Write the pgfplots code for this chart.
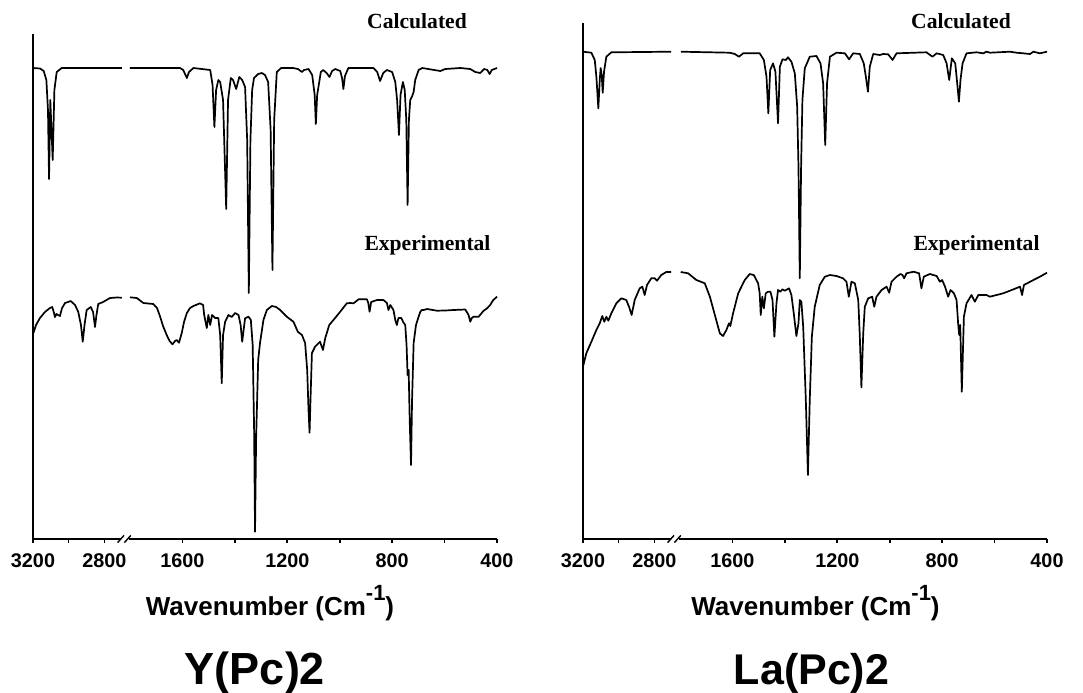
\documentclass[border=0pt]{standalone}
\usepackage{fontspec}
\setmainfont{Liberation Sans}
\newfontfamily\tnr{Liberation Serif}
\usepackage{pgfplots}
\pgfplotsset{compat=1.18}
\pgfplotsset{
  irax/.style={
    scale only axis, width=232pt, height=258pt, anchor=south west,
    xmin=0, xmax=1770, ymin=-539, ymax=-23, enlargelimits=false,
    axis x line=bottom, axis y line=none,
    axis line style={-, line width=0.9pt},
    x filter/.expression={(x>2000)*0.68*(3200-x)+(x<=2000)*(2170-x)},
    y filter/.expression={-y},
    xtick={0,136,272,570,770,970,1170,1370,1570,1770},
    xticklabels={3200,,2800,1600,,1200,,800,,400},
    ytick=\empty,
    tick align=outside, major tick length=1.8pt,
    tick style={line width=0.8pt, black},
    xticklabel style={font=\fontsize{9.9}{10}\selectfont\bfseries, yshift=-2pt},
    /pgf/number format/assume math mode=true,
    clip=false,
  },
  spec/.style={black, line width=0.85pt, no markers, line join=round},
}
\begin{document}
\begin{tikzpicture}
\useasboundingbox (0,0) rectangle (541.5pt,-346pt);
% ---------------- Y(Pc)2 ----------------
\begin{axis}[irax, at={(16.5pt,-269.5pt)}]
% calculated
\addplot[spec] coordinates {(3200,68)(3160,68.5)(3140,71)(3125,80)(3116,110)(3110,179)(3103,100)(3089.5,160)(3080,90)(3067,72)(3039,68)(2702,68)};
\addplot[spec] coordinates {(1800,68)(1609,68)(1597,70)(1583,78)(1575,72)(1558,68)(1494,70)(1485,85)(1478,127)(1471.5,90)(1463,80)(1456,82)(1445,100)(1433,209)(1426,100)(1415.4,78)(1407,80)(1395,89)(1383,77)(1372,80)(1361,87)(1353,140)(1346.7,293)(1340.6,140)(1334,90)(1327,78)(1311,74)(1297,73)(1285,75)(1273,82)(1263.5,130)(1256.6,270)(1250,120)(1240,72)(1223.5,68)(1178,68)(1159,69)(1144,72)(1136,70)(1119,69)(1105,75)(1095.5,95)(1091,124)(1086,95)(1072,72)(1063,70)(1050,73)(1039,77)(1029,71)(1017,69)(998,71)(991,78)(986,89)(980,76)(967,68)(871,68)(857,72)(846,81)(834,73)(820,70)(800,72)(788,82)(781,100)(774,135)(768,95)(759,82)(752,90)(746,120)(741,205)(736,120)(731,100)(725,97)(718,92)(712,80)(699,70)(685,68)(616,71)(597.5,69)(540,68)(502,69)(483,72)(464,73)(449,69)(437,70)(428,74)(420,70)(400,68)};
% experimental
\addplot[spec] coordinates {(3198,333)(3183,325)(3161,318)(3133,312)(3105,308)(3092,307)(3082,313)(3077,317)(3068,314)(3060,315)(3049,316)(3037,308)(3020,303)(3004,302)(2988.5,301)(2964,305)(2946,312)(2931,325)(2921,341.7)(2911,325)(2899,310)(2876,307)(2863,312)(2852,327)(2844,315)(2834,304)(2807,302)(2768,298)(2730,297.5)(2702,297.7)};
\addplot[spec] coordinates {(1800,297.3)(1774,298)(1749,303)(1711,304)(1697,308)(1685,316.7)(1674,326)(1660,335)(1649,341)(1638,344.3)(1628,341)(1621.5,340)(1613,342.7)(1602.5,333)(1594,322)(1583,313)(1571,308)(1558,306)(1533,303.3)(1521,305)(1517,315)(1507,328)(1501,315)(1494,325)(1487,315)(1475,318)(1463,318)(1456,335)(1450,383.3)(1445,335)(1437,321.7)(1424.5,315)(1412,317)(1399,313)(1386,315)(1378,325)(1372,341.7)(1366.5,330)(1361,318.3)(1348,316.7)(1339,320)(1332,345)(1326.5,430)(1323,531.7)(1319,440)(1311,360)(1304,343)(1291,320)(1278,310)(1259,306)(1242.5,307)(1227,310)(1202,316.7)(1176.5,321.7)(1160,331.7)(1144,335)(1132,343)(1124,370)(1119,410)(1115,432.7)(1111.5,400)(1106,353)(1094,346.7)(1075,341.7)(1064,350)(1055,338)(1040,325)(1024,320)(998,311.7)(973,303.3)(960,303)(947,303.3)(928,299.3)(896,299.3)(891,303)(886,311.7)(880,302)(858,300)(833,300)(820,303)(814,310)(807,305)(795,310)(788,320)(782,325)(776,318)(765,318)(758,322)(750,325)(745,345)(741,375)(737,370)(733,420)(728,465)(724,400)(718,343)(709,325)(699,316.7)(693,312)(687,310)(680,310)(667,309)(629,310.7)(597.5,310.5)(566,310)(521,309.5)(508.5,315)(502,321.7)(496,318)(489,316.7)(470,316.7)(452,311)(438,308.3)(426,305)(419,302)(414,300)(400,296.7)};
\end{axis}
% ---------------- La(Pc)2 ----------------
\begin{axis}[irax, at={(291.5pt,-269.5pt)}]
\addplot[spec] coordinates {(3200,51.7)(3153,52.7)(3134,60)(3125,76.7)(3114,108.3)(3106,80)(3101,68)(3095,75)(3089.5,92.7)(3082,71.7)(3069,56.7)(3041,52.3)(2705,51.7)};
\addplot[spec] coordinates {(1797,51.7)(1610,52.7)(1591,54)(1575,56.7)(1559,53.3)(1496,53.3)(1480,60)(1470,76.7)(1463,113.3)(1456,70)(1445,63.3)(1436,71.7)(1426,123.3)(1419,66.7)(1409,59.3)(1396,60)(1388,57.3)(1375,61.7)(1362,73.3)(1353,106.7)(1348,166.7)(1343,278.3)(1338,166.7)(1333,100)(1324,68.3)(1305,56.7)(1279.5,56)(1264,63.3)(1254,83.3)(1246,145)(1239,83.3)(1228,56.7)(1203,52.7)(1171,53.3)(1155,59.3)(1139.5,53.3)(1114,54)(1099,63.3)(1091,76.7)(1083,91.7)(1076,66.7)(1063,54)(1037.5,55)(1025,54)(1006,54.3)(989,60)(974,53.3)(860,52.3)(837,56.7)(821,53.3)(796,55)(783,63.3)(773,80)(763,58.3)(750,63.3)(742.5,83.3)(736,101.7)(730,80)(722,63.3)(707,53.3)(669,52.3)(643,53.3)(631,51.7)(617,52.7)(541.5,51.7)(516,52.7)(491,53.3)(465,54)(452,51.7)(427,53.3)(400,51.7)};
\addplot[spec] coordinates {(3200,366.7)(3181.5,353.3)(3153,341.7)(3125,330)(3106,323.3)(3092,316)(3080.5,321.7)(3069,316.7)(3058,320.7)(3041,313.3)(3013,303.3)(2985,298.3)(2957,300)(2942,306.7)(2927,315)(2910,300)(2882,288.3)(2867,286.7)(2854,295)(2841,285)(2817,278.3)(2798,278.3)(2785,280.7)(2761,275)(2733,272)(2705,272)};
\addplot[spec] coordinates {(1797,272)(1769,273.3)(1737.5,280)(1705.5,283.3)(1686,296.7)(1667,315)(1648,333.3)(1636,336)(1623,330)(1613,323.3)(1608,326)(1597.5,313.3)(1578,293.3)(1553,280)(1534,274)(1518.5,275)(1502,283.3)(1496,293.3)(1492,315)(1486,296.7)(1480,308.3)(1473,293.3)(1464,291.7)(1455,291.7)(1447,300)(1440,336.7)(1432,303.3)(1426,290)(1417,291.7)(1409,289.3)(1400,290.7)(1384,288.3)(1375,295)(1366,313.3)(1356,336)(1348,323.3)(1343,300)(1337,301.7)(1330,326.7)(1320,400)(1312,475)(1305,400)(1297,336.7)(1286,306.7)(1267,285)(1247.5,276.7)(1228,275)(1203,276)(1178,278.3)(1165,281.7)(1156,296.7)(1146,281.7)(1133,283.3)(1120,300)(1114,336.7)(1108,387.3)(1101,333.3)(1095,306.7)(1082,298.3)(1067,296.7)(1059,306.7)(1050.5,296.7)(1031,290)(1012,286.7)(1002,292.7)(993,281.7)(974,276.7)(959,274)(951,275)(945,278.3)(936,273.3)(909,271.7)(888,273.3)(879,288.3)(870,276.7)(847,274)(821,276)(808.5,281.7)(800,280)(789,286.7)(777,296.7)(768,290)(755,293.3)(745,300)(739,323.3)(735,335)(731,325)(725,391.7)(717,316.7)(707,303.3)(688,295)(675,301.7)(662,295)(631,295)(618,296.7)(567,293.3)(541.5,290.7)(503,286.7)(495,295)(488,285)(452,280)(427,276.7)(400,272.7)};
\end{axis}
% y axis lines
\draw[line width=0.9pt] (16.5pt,-17pt) -- (16.5pt,-269.5pt);
\draw[line width=0.9pt] (291.5pt,-11.5pt) -- (291.5pt,-269.5pt);
% axis breaks
\foreach \dx in {0pt,275pt}{
  \fill[white] ([xshift=\dx]60.3pt,-268.6pt) rectangle ([xshift=\dx]64.7pt,-270.4pt);
  \draw[line width=0.7pt] ([xshift=\dx]58.8pt,-271.3pt) -- ([xshift=\dx]62pt,-267.7pt);
  \draw[line width=0.7pt] ([xshift=\dx]62.2pt,-271.3pt) -- ([xshift=\dx]65.4pt,-267.7pt);
}
% labels
\node[anchor=base, inner sep=0] at (208.5pt,-14pt) {\tnr\bfseries\fontsize{10.8}{11}\selectfont Calculated};
\node[anchor=base, inner sep=0] at (213.75pt,-125pt) {\tnr\bfseries\fontsize{10.8}{11}\selectfont Experimental};
\node[anchor=base, inner sep=0] at (480.5pt,-14pt) {\tnr\bfseries\fontsize{10.8}{11}\selectfont Calculated};
\node[anchor=base, inner sep=0] at (488.25pt,-125pt) {\tnr\bfseries\fontsize{10.8}{11}\selectfont Experimental};
\node[anchor=base, inner sep=0] at (135pt,-307.5pt) {\bfseries\fontsize{13}{13}\selectfont Wavenumber (Cm\raisebox{0.55em}{\fontsize{11}{11}\selectfont -1})};
\node[anchor=base, inner sep=0] at (407.75pt,-307.5pt) {\bfseries\fontsize{13}{13}\selectfont Wavenumber (Cm\raisebox{0.55em}{\fontsize{11}{11}\selectfont -1})};
\node[anchor=base, inner sep=0] at (127.5pt,-342pt) {\bfseries\fontsize{22.5}{23}\selectfont Y(Pc)2};
\node[anchor=base, inner sep=0] at (405.75pt,-342pt) {\bfseries\fontsize{21.5}{22}\selectfont La(Pc)2};
\end{tikzpicture}
\end{document}
